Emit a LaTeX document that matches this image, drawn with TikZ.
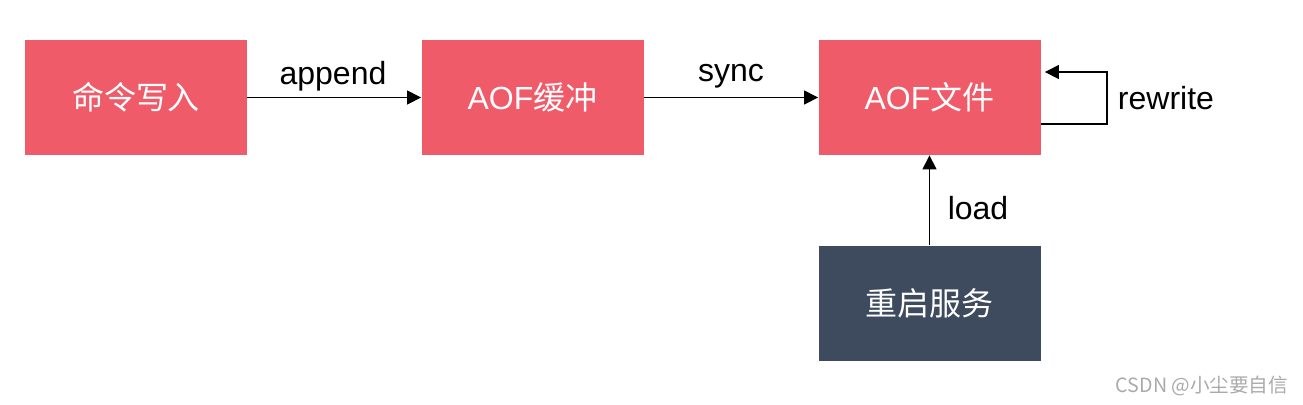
\documentclass[tikz,border=0pt]{standalone}
\usepackage{fontspec}
\setmainfont{Liberation Sans}
\newfontfamily\cjk{Noto Sans CJK SC}
\usetikzlibrary{arrows.meta}

\definecolor{boxred}{RGB}{240,91,106}
\definecolor{boxdark}{RGB}{62,74,94}
\definecolor{markgray}{RGB}{170,170,170}

\tikzset{
  stagebox/.style={fill=boxred, text=white, inner sep=0pt,
    minimum width=111pt, minimum height=57.5pt,
    font=\cjk\fontsize{16}{19}\selectfont},
  flow/.style={line width=0.6pt, -{Triangle[length=7pt,width=7pt]}},
  tag/.style={font=\fontsize{16}{19}\selectfont}
}

\begin{document}
\begin{tikzpicture}[x=0.5pt,y=-0.5pt]
            \useasboundingbox (0,0) rectangle (1303,404);

            \node[stagebox] (cmd) at (136,97.5) {命令写入};
            \node[stagebox] (buf) at (532.5,97.5) {{\rmfamily AOF}缓冲};
            \node[stagebox] (file) at (929.5,97.5) {{\rmfamily AOF}文件};
            \node[stagebox, fill=boxdark] (boot) at (929.5,303) {重启服务};

            \coordinate (rwA) at (1107,124);
            \coordinate (rwB) at (1107,72);

            \draw[flow] (cmd) -- (buf);
            \draw[flow] (buf) -- (file);
            \draw[flow] (boot) -- (file);
            \draw[flow] (file.east |- rwA) -- (rwA) -- (rwB) -- ([xshift=2pt]file.east |- rwB);

            \node[tag] (appendlbl) at (333,76) {append};
            \node[tag] (synclbl) at (731,76) {sync};
            \node[tag] (loadlbl) at (978,208) {load};
            \node[tag] (rewritelbl) at (1166,98) {rewrite};

            \node[text=markgray, font=\cjk\fontsize{9.8}{12}\selectfont] (mark) at (1202,386) {CSDN @小尘要自信};
        \end{tikzpicture}
\end{document}
